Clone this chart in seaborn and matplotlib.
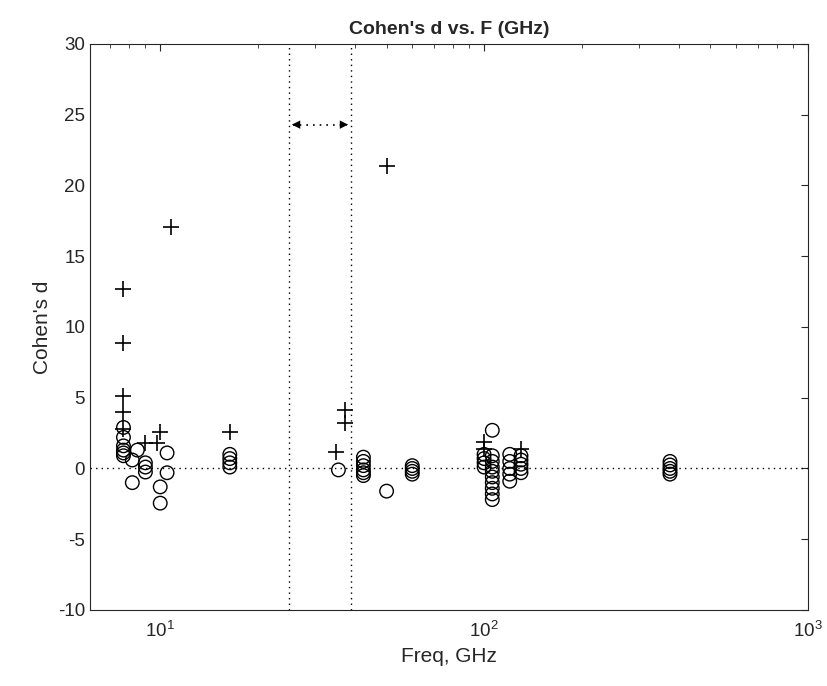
import matplotlib
matplotlib.use("Agg")
import matplotlib.pyplot as plt
import seaborn as sns
import numpy as np
import pandas as pd

# ---- data ----
plus_freq = [7.7, 7.7, 7.7, 7.7, 7.7, 9.0, 9.8, 10.0, 10.8, 16.4, 35.0, 37.2, 37.2, 50.0, 100.0, 100.0, 130.0]
plus_d = [12.7, 8.9, 5.1, 4.0, 2.8, 1.8, 1.8, 2.6, 17.1, 2.6, 1.2, 4.1, 3.2, 21.4, 1.9, 1.4, 1.4]

circ_freq = ([7.7] * 6 + [8.2] * 2 + [8.5] + [9.0] * 3 + [10.0] * 2 + [10.5] * 2 + [16.4] * 4 +
             [35.5] + [42.4] * 6 + [50.0] + [60.0] * 4 + [100.0] * 4 + [106.0] * 10 +
             [120.0] * 5 + [130.0] * 5 + [375.0] * 5)
circ_d = ([2.9, 2.2, 1.6, 1.3, 1.1, 0.9] + [0.6, -1.0] + [1.3] + [0.4, 0.1, -0.25] + [-1.3, -2.45] +
          [1.1, -0.3] + [1.0, 0.7, 0.4, 0.1] + [-0.1] + [0.8, 0.5, 0.2, -0.1, -0.3, -0.5] + [-1.6] +
          [0.2, 0.0, -0.2, -0.4] + [1.0, 0.7, 0.4, 0.1] +
          [2.7, 0.9, 0.5, 0.1, -0.2, -0.6, -1.0, -1.4, -1.8, -2.2] +
          [1.0, 0.5, 0.0, -0.4, -0.9] + [0.9, 0.6, 0.3, 0.0, -0.3] + [0.5, 0.25, 0.0, -0.2, -0.4])

band_lo, band_hi = 25.0, 38.8
arrow_y = 24.3
title = "Cohen's d vs. F (GHz)"
xlabel = "Freq, GHz"
ylabel = "Cohen's d"
yticks = [-10, -5, 0, 5, 10, 15, 20, 25, 30]

# ---- plot ----
sns.set_style("white")
plt.rcParams['font.family'] = ['Liberation Sans', 'DejaVu Sans']
plt.rcParams['axes.unicode_minus'] = False

fig = plt.figure(figsize=(8.28, 6.86), dpi=100)
ax = fig.add_axes([0.1087, 0.1108, 0.8671, 0.8251])

dfp = pd.DataFrame({"f": plus_freq, "d": plus_d})
dfc = pd.DataFrame({"f": circ_freq, "d": circ_d})

sns.scatterplot(data=dfc, x="f", y="d", marker="o", s=95, facecolor="none",
                edgecolor="black", linewidth=1.0, ax=ax, zorder=3)
sns.scatterplot(data=dfp, x="f", y="d", marker="+", s=140, color="black",
                linewidth=1.2, ax=ax, zorder=3)

ax.set_xscale("log")
ax.set_xlim(6.07, 1000)
ax.set_ylim(-10, 30)
ax.set_yticks(yticks)

ax.axhline(0, color="black", ls=(0, (1, 3)), lw=1.0, zorder=1)
ax.axvline(band_lo, color="black", ls=(0, (1, 3)), lw=1.0, zorder=1)
ax.axvline(band_hi, color="black", ls=(0, (1, 3)), lw=1.0, zorder=1)

# double arrow
ax.plot([band_lo * 1.03, band_hi * 0.97], [arrow_y, arrow_y], color="black", ls=(0, (1, 3)), lw=1.2)
ax.annotate("", xy=(band_lo, arrow_y), xytext=(band_lo * 1.08, arrow_y),
            arrowprops=dict(arrowstyle="-|>", color="black", lw=0.01, mutation_scale=15))
ax.annotate("", xy=(band_hi, arrow_y), xytext=(band_hi / 1.08, arrow_y),
            arrowprops=dict(arrowstyle="-|>", color="black", lw=0.01, mutation_scale=15))

ax.set_title(title, fontsize=14, fontweight="bold", pad=7)
ax.set_xlabel(xlabel, fontsize=15)
ax.set_ylabel(ylabel, fontsize=15)

for sp in ax.spines.values():
    sp.set_color("#262626")
    sp.set_linewidth(0.8)

ax.tick_params(axis="both", which="both", direction="in", top=True, right=True,
               colors="#262626", labelsize=13.5)
ax.tick_params(axis="both", which="major", length=5)
ax.tick_params(axis="both", which="minor", length=3)
ax.tick_params(axis="x", pad=8)
ax.grid(False)

fig.savefig("out.png", dpi=100)
